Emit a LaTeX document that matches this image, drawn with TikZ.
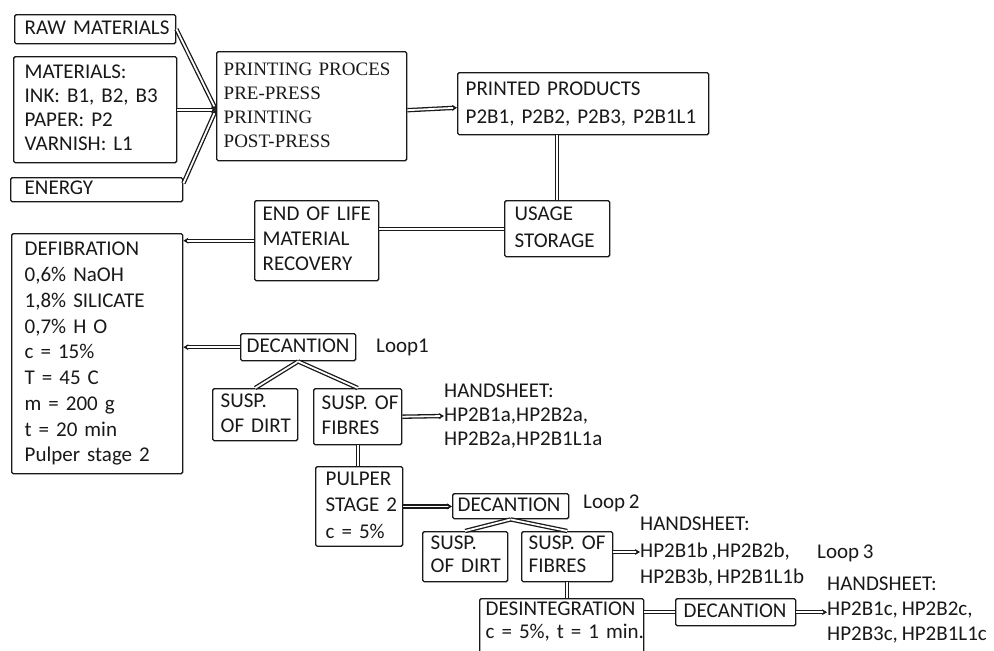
\documentclass[tikz,border=0pt]{standalone}
\usepackage{fontspec}
\setmainfont{Carlito}[WordSpace=0.8]
\newfontfamily\serifpp{Liberation Serif}
\usetikzlibrary{arrows.meta,calc}
\newcommand\bxlines[1]{\begin{tabular}{@{}l@{}}#1\end{tabular}}
\begin{document}
\frenchspacing
\begin{tikzpicture}[x=1pt,y=-1pt,
  bs/.style={font=\fontsize{21}{#1}\selectfont\frenchspacing},
  box/.style={draw=black!90, line width=1.4pt, rounded corners=1.5pt, anchor=north west,
    inner ysep=0pt, bs=24, text=black!90},
  txt/.style={inner sep=0pt, align=left, anchor=west, bs=24, text=black!90},
  conn/.style={draw=black!90, double=white, double distance=1.8pt, line width=1.3pt},
  tip/.style={-{Stealth[length=5pt,width=6pt]}}]
\fill[white] (0,0) rectangle (994,651);
\useasboundingbox (0,0) rectangle (994,651);

% boxes
\node[box, inner xsep=10pt, text width=141pt, minimum height=29pt] (raw) at (14,14) {\bxlines{RAW MATERIALS}};
\node[box, inner xsep=11pt, text width=141pt, minimum height=106pt] (mat) at (13,56) {\bxlines{MATERIALS:\\INK: B1, B2, B3\\PAPER: P2\\VARNISH: L1}};
\node[box, inner xsep=14pt, text width=144pt, minimum height=24pt] (energy) at (10,177) {\bxlines{ENERGY}};
\node[box, inner xsep=7pt, text width=176pt, minimum height=109pt, font=\serifpp\fontsize{19}{24}\selectfont] (pp) at (216,51) {\bxlines{PRINTING PROCES\\PRE-PRESS\\PRINTING\\POST-PRESS}};
\node[box, inner xsep=8pt, text width=235pt, minimum height=62pt, bs=28] (prod) at (457,72) {\bxlines{PRINTED PRODUCTS\\P2B1, P2B2, P2B3, P2B1L1}};
\node[box, inner xsep=10pt, text width=85pt, minimum height=56pt, bs=27] (usage) at (504,200) {\bxlines{USAGE\\STORAGE}};
\node[box, inner xsep=8pt, text width=108pt, minimum height=80pt, bs=25] (eol) at (254,200) {\bxlines{END OF LIFE\\MATERIAL\\RECOVERY}};
\node[box, inner xsep=13pt, text width=145pt, minimum height=240pt, bs=25.75] (defib) at (11,233) {\bxlines{DEFIBRATION\\0,6\% NaOH\\1,8\% SILICATE\\0,7\% H O\\c = 15\%\\T = 45 C\\m = 200 g\\t = 20 min\\Pulper stage 2}};
\node[box, inner xsep=6pt, text width=103pt, minimum height=27pt] (dec1) at (240,333) {\bxlines{DECANTION}};
\node[box, inner xsep=8pt, text width=69pt, minimum height=52pt, bs=25] (dirt1) at (212,388) {\bxlines{SUSP.\\OF DIRT}};
\node[box, inner xsep=8pt, text width=72pt, minimum height=56pt, bs=25] (fib1) at (313,388) {\bxlines{SUSP. OF\\FIBRES}};
\node[txt] (hs1) at (444,416) {HANDSHEET:\\HP2B1a,HP2B2a,\\HP2B2a,HP2B1L1a};
\node[box, inner xsep=10pt, text width=67pt, minimum height=79pt, bs=26.5] (pulper) at (315,466) {\bxlines{PULPER\\STAGE 2\\c = 5\%}};
\node[box, inner xsep=5pt, text width=106pt, minimum height=25pt] (dec2) at (452,493) {\bxlines{DECANTION}};
\node[box, inner xsep=8pt, text width=69pt, minimum height=50pt, bs=23] (dirt2) at (422,531) {\bxlines{SUSP.\\OF DIRT}};
\node[box, inner xsep=7pt, text width=77pt, minimum height=50pt, bs=23] (fib2) at (521,531) {\bxlines{SUSP. OF\\FIBRES}};
\node[txt, bs=26.5] (hs2) at (640,552) {HANDSHEET:\\HP2B1b ,HP2B2b,\\HP2B3b, HP2B1L1b};
\node[box, inner xsep=6pt, text width=152pt, minimum height=70pt, bs=23] (desint) at (479,598) {\bxlines{DESINTEGRATION\\c = 5\%, t = 1 min.\\[23pt]}};
\node[box, inner xsep=8pt, text width=104pt, minimum height=27pt] (dec3) at (675,598) {\bxlines{DECANTION}};
\node[txt, bs=25] (hs3) at (827,610) {HANDSHEET:\\HP2B1c, HP2B2c,\\HP2B3c, HP2B1L1c};
\node[txt] (loop1) at (376,347) {Loop1};
\node[txt] (loop2) at (583,503) {Loop 2};
\node[txt] (loop3) at (817,553) {Loop 3};

% connectors
\coordinate (pin) at (pp.west |- mat.east);
\draw[conn, tip] (raw.east) -- (pin);
\draw[conn, tip] (mat.east) -- (pin);
\draw[conn, tip] ($(energy.east)!0.5!(energy.north east)$) -- (pin);
\draw[conn, tip] ($(pp.east)+(0,4)$) -- ($(prod.west)+(0,4)$);
\draw[conn] (prod.south -| usage.north) -- (usage.north);
\draw[conn] (usage.west) -- (usage.west -| eol.east);
\draw[conn, tip] (eol.west) -- (eol.west -| defib.east);
\draw[conn, tip] (dec1.west) -- (dec1.west -| defib.east);
\draw[conn] (dec1.south) -- (dirt1.north);
\draw[conn] (dec1.south) -- (fib1.north);
\draw[conn, tip] (fib1.east) -- (hs1.west);
\draw[conn] (fib1.south) -- (fib1.south |- pulper.north);
\draw[conn, tip] (pulper.east) -- (pulper.east -| dec2.west);
\draw[conn] (dec2.south) -- (dirt2.north);
\draw[conn] (dec2.south) -- (fib2.north);
\draw[conn, tip] (fib2.east |- hs2.west) -- (hs2.west);
\draw[conn] (fib2.south) -- (fib2.south |- desint.north);
\draw[conn] (dec3.west) -- (dec3.west -| desint.east);
\draw[conn, tip] (dec3.east) -- (dec3.east -| hs3.west);
\end{tikzpicture}
\end{document}
